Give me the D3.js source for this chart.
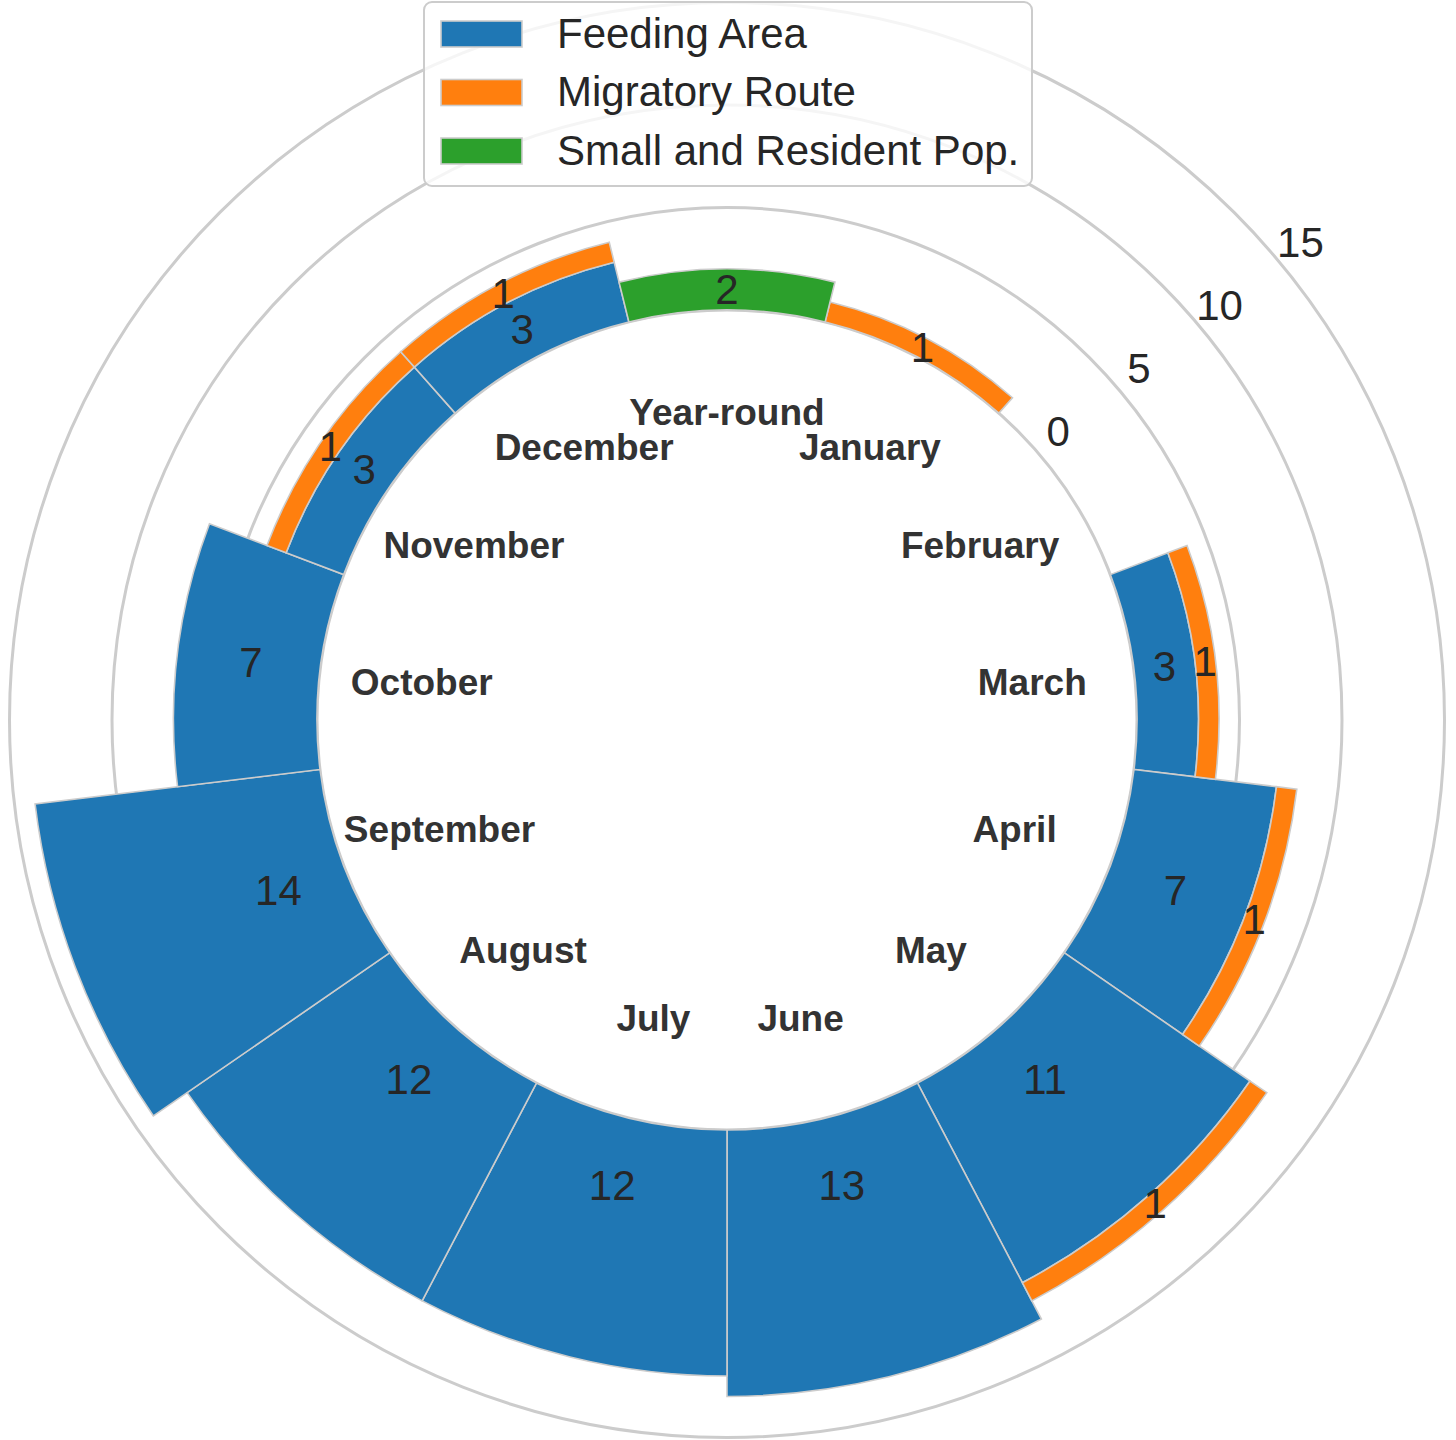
<!DOCTYPE html>
<html>
<head>
<meta charset="utf-8">
<script src="https://cdn.jsdelivr.net/npm/d3@7"></script>
<style>
  html, body { margin: 0; padding: 0; background: #fff; }
  svg { display: block; font-family: "Liberation Sans", Arial, sans-serif; }
</style>
</head>
<body>
<div id="chart"></div>
<script>
const categories = ['Year-round', 'January', 'February', 'March', 'April', 'May', 'June',
  'July', 'August', 'September', 'October', 'November', 'December'];
const feedingArea = [0, 0, 0, 3, 7, 11, 13, 12, 12, 14, 7, 3, 3];
const migratoryRoute = [0, 1, 0, 1, 1, 1, 0, 0, 0, 0, 0, 1, 1];
const residentPop = [2, 0, 0, 0, 0, 0, 0, 0, 0, 0, 0, 0, 0];
const seriesNames = ['Feeding Area', 'Migratory Route', 'Small and Resident Pop.'];
const radialTicks = [0, 5, 10, 15];

const seriesColors = ['#1f77b4', '#ff7f0e', '#2ca02c'];

class PolarStackChart {
  constructor() {
    try {
      this.width = 1456;
      this.height = 1440;
      this.cx = 727;
      this.cy = 720;
      this.outerRadius = 717.5;

      this.svg = d3.select('#chart')
        .append('svg')
        .attr('width', this.width)
        .attr('height', this.height);

      this.g = this.svg.append('g')
        .attr('transform', `translate(${this.cx},${this.cy})`);

      this.initializeScales();
      this.drawGrid();
      this.drawBars();
      this.drawLabels();
      this.drawLegend();
    } catch (error) {
      console.error('Chart error:', error);
    }
  }

  initializeScales() {
    const rows = categories.map((c, i) => ({
      category: c,
      [seriesNames[0]]: feedingArea[i],
      [seriesNames[1]]: migratoryRoute[i],
      [seriesNames[2]]: residentPop[i]
    }));
    this.layers = d3.stack().keys(seriesNames)(rows);

    // angle 0 at the top, clockwise (same convention as d3.arc)
    this.angle = d3.scaleBand()
      .domain(categories)
      .range([0, 2 * Math.PI]);
    this.step = this.angle.step();

    // radial axis starts below zero to leave the hole in the middle
    this.r = d3.scaleLinear()
      .domain([-20, 15])
      .range([0, this.outerRadius]);
  }

  polar(a, radius) {
    return [radius * Math.sin(a), -radius * Math.cos(a)];
  }

  drawGrid() {
    this.g.append('g')
      .selectAll('circle')
      .data(radialTicks)
      .enter()
      .append('circle')
      .attr('r', d => this.r(d))
      .attr('fill', 'none')
      .attr('stroke', '#cccccc')
      .attr('stroke-width', 3);

    // radial tick labels sit along a slanted line on the upper right
    const labelAngle = 52 * Math.PI / 180;
    this.g.append('g')
      .selectAll('text')
      .data(radialTicks)
      .enter()
      .append('text')
      .attr('x', d => this.polar(labelAngle, this.r(d))[0] + 8)
      .attr('y', d => this.polar(labelAngle, this.r(d))[1] - 36)
      .attr('text-anchor', 'middle')
      .attr('dominant-baseline', 'central')
      .style('font-size', '42px')
      .style('fill', '#262626')
      .text(d => d);
  }

  drawBars() {
    const arc = d3.arc();
    this.layers.forEach((layer, k) => {
      this.g.append('g')
        .selectAll('path')
        .data(layer.filter(d => d[1] > d[0]))
        .enter()
        .append('path')
        .attr('d', d => arc({
          innerRadius: this.r(d[0]),
          outerRadius: this.r(d[1]),
          startAngle: this.angle(d.data.category) - this.step / 2,
          endAngle: this.angle(d.data.category) + this.step / 2
        }))
        .attr('fill', seriesColors[k])
        .attr('stroke', '#cccccc')
        .attr('stroke-width', 1.6);
    });
  }

  drawLabels() {
    // value labels: middle of the segment, capped for the tall blue bars
    this.layers.forEach(layer => {
      this.g.append('g')
        .selectAll('text')
        .data(layer.filter(d => d[1] > d[0]))
        .enter()
        .append('text')
        .attr('transform', d => {
          const mid = d[0] + Math.min((d[1] - d[0]) / 2, 3.4);
          const [x, y] = this.polar(this.angle(d.data.category), this.r(mid));
          return `translate(${x},${y})`;
        })
        .attr('text-anchor', 'middle')
        .attr('dominant-baseline', 'central')
        .style('font-size', '42px')
        .style('fill', '#262626')
        .text(d => d[1] - d[0]);
    });

    // category names inside the hole
    this.g.append('g')
      .selectAll('text')
      .data(categories)
      .enter()
      .append('text')
      .attr('transform', d => {
        const [x, y] = this.polar(this.angle(d), this.r(-5));
        return `translate(${x},${y})`;
      })
      .attr('text-anchor', 'middle')
      .attr('dominant-baseline', 'central')
      .style('font-size', '37px')
      .style('font-weight', 'bold')
      .style('fill', '#333333')
      .text(d => d);
  }

  drawLegend() {
    const legend = this.svg.append('g')
      .attr('transform', 'translate(424,2)');

    legend.append('rect')
      .attr('width', 608)
      .attr('height', 184)
      .attr('rx', 8)
      .attr('fill', '#ffffff')
      .attr('fill-opacity', 0.8)
      .attr('stroke', '#cccccc')
      .attr('stroke-width', 2);

    const rowHeight = 58.5;
    const items = legend.selectAll('g.item')
      .data(seriesNames)
      .enter()
      .append('g')
      .attr('class', 'item')
      .attr('transform', (d, i) => `translate(0,${31 + i * rowHeight})`);

    items.append('rect')
      .attr('x', 17)
      .attr('y', -12)
      .attr('width', 81)
      .attr('height', 26)
      .attr('fill', (d, i) => seriesColors[i])
      .attr('stroke', '#cccccc')
      .attr('stroke-width', 1.6);

    items.append('text')
      .attr('x', 133)
      .attr('y', 0)
      .attr('dominant-baseline', 'central')
      .style('font-size', '42px')
      .style('fill', '#262626')
      .text(d => d);
  }
}

const chart = new PolarStackChart();
</script>
</body>
</html>
